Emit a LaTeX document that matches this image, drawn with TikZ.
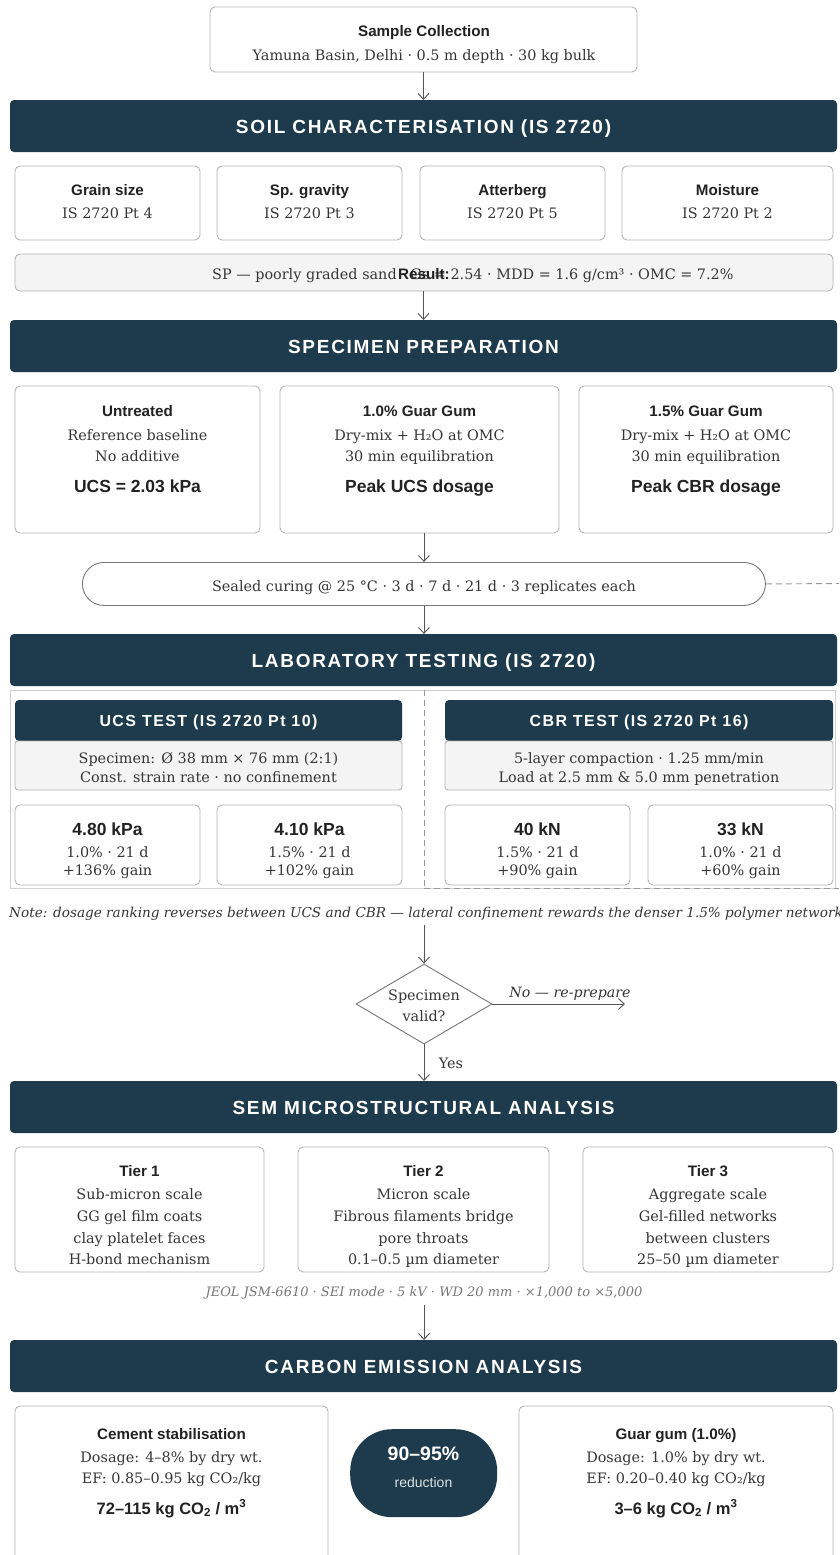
\documentclass[tikz,border=0pt]{standalone}
\usepackage{fontspec}
\setmainfont{DejaVu Serif}
\setsansfont{Liberation Sans}
\newfontfamily\hdrfont[LetterSpace=9]{Liberation Sans}
\usetikzlibrary{shapes.geometric,arrows.meta}
\definecolor{navy}{HTML}{1D3B4C}
\definecolor{bordergray}{HTML}{B4B4B4}
\definecolor{panelgray}{HTML}{D0D0D0}
\definecolor{lightfill}{HTML}{F4F4F4}
\definecolor{arrowgray}{HTML}{555555}
\definecolor{txtdark}{HTML}{222222}
\definecolor{txtgray}{HTML}{363636}
\definecolor{capgray}{HTML}{777777}
\tikzset{
  box/.style={draw=bordergray, line width=0.9pt, rounded corners=5pt, fill=white, inner sep=0pt, outer sep=0pt, anchor=north west},
  greybox/.style={box, fill=lightfill},
  hdrbar/.style={fill=navy, rounded corners=4pt, inner sep=0pt, outer sep=0pt, anchor=north west},
  txt/.style={text height=0.72em, text depth=0pt, inner sep=0pt, yshift=-2.5pt},
  hdrtxt/.style={txt, yshift=-1.5pt, text=white, font=\hdrfont\bfseries\fontsize{19}{21}\selectfont},
  subhdr/.style={txt, text=white, font=\hdrfont\bfseries\fontsize{16}{18}\selectfont},
  ttl/.style={txt, font=\sffamily\bfseries\fontsize{15.2}{17}\selectfont, text=txtdark},
  srf/.style={txt, font=\fontsize{14.4}{17}\selectfont, text=txtgray},
  big/.style={txt, font=\sffamily\bfseries\fontsize{17.5}{19}\selectfont, text=txtdark},
  arr/.style={draw=arrowgray, line width=0.9pt, -{Straight Barb[length=6pt,width=11pt]}},
  dashln/.style={draw=gray!80, line width=0.9pt, dash pattern=on 6pt off 4pt},
}
\begin{document}
\begin{tikzpicture}[x=1pt,y=-1pt]
\useasboundingbox (0,0) rectangle (839,1555);
\fill[white] (0,0) rectangle (839,1555);

% Sample collection
\node[box, minimum width=427pt, minimum height=65pt] (sc) at (210,7) {};
\node[ttl] (sct) at (424,30) {Sample Collection};
\node[srf] (scs) at (424,54) {Yamuna Basin, Delhi · 0.5 m depth · 30 kg bulk};

% Header 1
\node[hdrbar, minimum width=827pt, minimum height=52pt] (h1) at (10,100) {};
\node[hdrtxt] at (h1.center) {SOIL CHARACTERISATION (IS 2720)};
\draw[arr] (sc.south -| h1.north) -- (h1.north);

% four boxes
\node[box, minimum width=185pt, minimum height=74pt] (g1) at (15,166) {};
\node[box, minimum width=185pt, minimum height=74pt] (g2) at (217,166) {};
\node[box, minimum width=185pt, minimum height=74pt] (g3) at (420,166) {};
\node[box, minimum width=211pt, minimum height=74pt] (g4) at (622,166) {};
\node[ttl] (g1t) at (107.5,189) {Grain size};
\node[srf] (g1s) at (107.5,212) {IS 2720 Pt 4};
\node[ttl] (g2t) at (309.5,189) {Sp. gravity};
\node[srf] (g2s) at (309.5,212) {IS 2720 Pt 3};
\node[ttl] (g3t) at (512.5,189) {Atterberg};
\node[srf] (g3s) at (512.5,212) {IS 2720 Pt 5};
\node[ttl] (g4t) at (727.5,189) {Moisture};
\node[srf] (g4s) at (727.5,212) {IS 2720 Pt 2};

% result bar
\node[greybox, minimum width=818pt, minimum height=37pt] (res) at (15,254) {};
\node[srf, anchor=west] (rest) at (212,273) {SP — poorly graded sand · Gs = 2.54 · MDD = 1.6 g/cm³ · OMC = 7.2\%};
\node[ttl, anchor=west] (resl) at (398,273) {Result:};

% Header 2
\node[hdrbar, minimum width=827pt, minimum height=52pt] (h2) at (10,320) {};
\node[hdrtxt] at (h2.center) {SPECIMEN PREPARATION};
\draw[arr] (res.south -| h2.north) -- (h2.north);

% prep boxes
\node[box, minimum width=245pt, minimum height=147pt] (p1) at (15,386) {};
\node[box, minimum width=279pt, minimum height=147pt] (p2) at (280,386) {};
\node[box, minimum width=254pt, minimum height=147pt] (p3) at (579,386) {};
\node[ttl] (p1a) at (137.5,410) {Untreated};
\node[srf] (p1b) at (137.5,434) {Reference baseline};
\node[srf] (p1c) at (137.5,455) {No additive};
\node[big] (p1d) at (137.5,486) {UCS = 2.03 kPa};
\node[ttl] (p2a) at (419.5,410) {1.0\% Guar Gum};
\node[srf] (p2b) at (419.5,434) {Dry-mix + H₂O at OMC};
\node[srf] (p2c) at (419.5,455) {30 min equilibration};
\node[big] (p2d) at (419.5,486) {Peak UCS dosage};
\node[ttl] (p3a) at (706,410) {1.5\% Guar Gum};
\node[srf] (p3b) at (706,434) {Dry-mix + H₂O at OMC};
\node[srf] (p3c) at (706,455) {30 min equilibration};
\node[big] (p3d) at (706,486) {Peak CBR dosage};

% curing pill
\node[draw=arrowgray!80, line width=0.9pt, fill=white, rounded corners=21.5pt, minimum width=683pt, minimum height=43pt, inner sep=0pt, anchor=north west] (cur) at (82,562) {};
\node[srf] (curt) at (424,585) {Sealed curing @ 25 °C · 3 d · 7 d · 21 d · 3 replicates each};
\draw[arr] (p2.south -| cur.north) -- (cur.north);
\coordinate (loopR) at (839,583.5);
\draw[dashln] (cur.east) -- (loopR);

% Header 3
\node[hdrbar, minimum width=827pt, minimum height=52pt] (h3) at (10,634) {};
\node[hdrtxt] at (h3.center) {LABORATORY TESTING (IS 2720)};
\draw[arr] (cur.south) -- (cur.south |- h3.north);

% panel
\node[draw=panelgray, line width=0.8pt, minimum width=825pt, minimum height=198pt, inner sep=0pt, outer sep=0pt, anchor=north west] (panel) at (10,690) {};
\coordinate (divT) at (424,690);
\coordinate (divB) at (424,888);
\coordinate (loopB) at (839,888);
\draw[dashln, line width=0.7pt] (divT) -- (divB);
\draw[dashln, line width=0.7pt] (divB) -- (loopB);

% UCS
\node[hdrbar, minimum width=387pt, minimum height=41pt] (uh) at (15,700) {};
\node[subhdr] at (uh.center) {UCS TEST (IS 2720 Pt 10)};
\node[greybox, minimum width=387pt, minimum height=49pt, rounded corners=3pt] (us) at (15,741) {};
\node[srf] (us1) at (208.5,757) {Specimen: Ø 38 mm × 76 mm (2:1)};
\node[srf] (us2) at (208.5,776) {Const. strain rate · no confinement};
% CBR
\node[hdrbar, minimum width=388pt, minimum height=41pt] (ch) at (445,700) {};
\node[subhdr] at (ch.center) {CBR TEST (IS 2720 Pt 16)};
\node[greybox, minimum width=388pt, minimum height=49pt, rounded corners=3pt] (cs) at (445,741) {};
\node[srf] (cs1) at (639,757) {5-layer compaction · 1.25 mm/min};
\node[srf] (cs2) at (639,776) {Load at 2.5 mm \& 5.0 mm penetration};

% result boxes
\node[box, minimum width=185pt, minimum height=80pt] (r1) at (15,805) {};
\node[box, minimum width=185pt, minimum height=80pt] (r2) at (217,805) {};
\node[box, minimum width=185pt, minimum height=80pt] (r3) at (445,805) {};
\node[box, minimum width=185pt, minimum height=80pt] (r4) at (648,805) {};
\node[big] (r1a) at (107.5,829) {4.80 kPa};
\node[srf] (r1b) at (107.5,851) {1.0\% · 21 d};
\node[srf] (r1c) at (107.5,869) {+136\% gain};
\node[big] (r2a) at (309.5,829) {4.10 kPa};
\node[srf] (r2b) at (309.5,851) {1.5\% · 21 d};
\node[srf] (r2c) at (309.5,869) {+102\% gain};
\node[big] (r3a) at (537.5,829) {40 kN};
\node[srf] (r3b) at (537.5,851) {1.5\% · 21 d};
\node[srf] (r3c) at (537.5,869) {+90\% gain};
\node[big] (r4a) at (740.5,829) {33 kN};
\node[srf] (r4b) at (740.5,851) {1.0\% · 21 d};
\node[srf] (r4c) at (740.5,869) {+60\% gain};

% note
\node[txt, font=\itshape\fontsize{13.6}{15}\selectfont, text=txtgray, anchor=west] (note) at (9,911) {Note: dosage ranking reverses between UCS and CBR — lateral confinement rewards the denser 1.5\% polymer network};

% diamond
\node[diamond, draw=arrowgray!80, line width=0.9pt, fill=white, minimum width=136pt, minimum height=80pt, inner sep=0pt, aspect=1.7] (dec) at (424,1004) {};
\node[srf] (dect1) at (424,994) {Specimen};
\node[srf] (dect2) at (424,1015) {valid?};
\coordinate (noteC) at (424,925);
\draw[arr] (noteC) -- (dec.north);
\coordinate (noEnd) at (625,1004);
\draw[arr] (dec.east) -- (noEnd);
\node[txt, font=\itshape\fontsize{14.2}{16}\selectfont, text=txtgray] (nolbl) at (570,991) {No — re-prepare};

% Header 4
\node[hdrbar, minimum width=827pt, minimum height=52pt] (h4) at (10,1081) {};
\node[hdrtxt] at (h4.center) {SEM MICROSTRUCTURAL ANALYSIS};
\draw[arr] (dec.south) -- (dec.south |- h4.north);
\node[srf] (yes) at (451,1062) {Yes};

% tiers
\node[box, minimum width=249pt, minimum height=125pt] (t1) at (15,1147) {};
\node[box, minimum width=251pt, minimum height=125pt] (t2) at (298,1147) {};
\node[box, minimum width=250pt, minimum height=125pt] (t3) at (583,1147) {};
\node[ttl] (t1a) at (139.5,1170) {Tier 1};
\node[srf] (t1b) at (139.5,1193) {Sub-micron scale};
\node[srf] (t1c) at (139.5,1215) {GG gel film coats};
\node[srf] (t1d) at (139.5,1237) {clay platelet faces};
\node[srf] (t1e) at (139.5,1258) {H-bond mechanism};
\node[ttl] (t2a) at (423.5,1170) {Tier 2};
\node[srf] (t2b) at (423.5,1193) {Micron scale};
\node[srf] (t2c) at (423.5,1215) {Fibrous filaments bridge};
\node[srf] (t2d) at (423.5,1237) {pore throats};
\node[srf] (t2e) at (423.5,1258) {0.1–0.5 µm diameter};
\node[ttl] (t3a) at (708,1170) {Tier 3};
\node[srf] (t3b) at (708,1193) {Aggregate scale};
\node[srf] (t3c) at (708,1215) {Gel-filled networks};
\node[srf] (t3d) at (708,1237) {between clusters};
\node[srf] (t3e) at (708,1258) {25–50 µm diameter};
\node[txt, font=\itshape\fontsize{13}{15}\selectfont, text=capgray] (cap) at (424,1290) {JEOL JSM-6610 · SEI mode · 5 kV · WD 20 mm · ×1,000 to ×5,000};

% Header 5
\node[hdrbar, minimum width=827pt, minimum height=52pt] (h5) at (10,1340) {};
\node[hdrtxt] at (h5.center) {CARBON EMISSION ANALYSIS};
\coordinate (capC) at (424,1305);
\draw[arr] (capC) -- (capC |- h5.north);

% carbon boxes
\node[box, minimum width=313pt, minimum height=160pt] (c1) at (15,1406) {};
\node[box, minimum width=314pt, minimum height=160pt] (c2) at (519,1406) {};
\node[ttl] (c1a) at (171.5,1433) {Cement stabilisation};
\node[srf] (c1b) at (171.5,1456) {Dosage: 4–8\% by dry wt.};
\node[srf] (c1c) at (171.5,1477) {EF: 0.85–0.95 kg CO₂/kg};
\node[big, font=\sffamily\bfseries\fontsize{16.5}{18}\selectfont] (c1d) at (171.5,1508) {72–115 kg CO\textsubscript{2} / m\textsuperscript{3}};
\node[ttl] (c2a) at (676,1433) {Guar gum (1.0\%)};
\node[srf] (c2b) at (676,1456) {Dosage: 1.0\% by dry wt.};
\node[srf] (c2c) at (676,1477) {EF: 0.20–0.40 kg CO₂/kg};
\node[big, font=\sffamily\bfseries\fontsize{16.5}{18}\selectfont] (c2d) at (676,1508) {3–6 kg CO\textsubscript{2} / m\textsuperscript{3}};

% reduction pill
\node[fill=navy, rounded corners=42pt, minimum width=147pt, minimum height=88pt, inner sep=0pt, anchor=north west] (red) at (350,1429) {};
\node[txt, font=\sffamily\bfseries\fontsize{19.5}{21}\selectfont, text=white] (reda) at (423.5,1454) {90–95\%};
\node[txt, font=\sffamily\fontsize{14}{16}\selectfont, text=white!85!navy] (redb) at (423.5,1481) {reduction};
\end{tikzpicture}
\end{document}
